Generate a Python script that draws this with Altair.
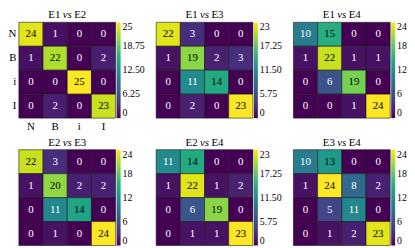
import altair as alt
import pandas as pd

cats = ["N", "B", "i", "I"]
title_left = ["E1", "E1", "E1", "E2", "E2", "E3"]
title_right = ["E2", "E3", "E4", "E3", "E4", "E4"]

m_e1_e2 = [[24, 1, 0, 0], [1, 22, 0, 2], [0, 0, 25, 0], [0, 2, 0, 23]]
m_e1_e3 = [[22, 3, 0, 0], [1, 19, 2, 3], [0, 11, 14, 0], [0, 2, 0, 23]]
m_e1_e4 = [[10, 15, 0, 0], [1, 22, 1, 1], [0, 6, 19, 0], [0, 0, 1, 24]]
m_e2_e3 = [[22, 3, 0, 0], [1, 20, 2, 2], [0, 11, 14, 0], [0, 1, 0, 24]]
m_e2_e4 = [[11, 14, 0, 0], [1, 22, 1, 2], [0, 6, 19, 0], [0, 1, 1, 23]]
m_e3_e4 = [[10, 13, 0, 0], [1, 24, 8, 2], [0, 5, 11, 0], [0, 1, 2, 23]]
matrices = [m_e1_e2, m_e1_e3, m_e1_e4, m_e2_e3, m_e2_e4, m_e3_e4]

tv25 = [0, 6.25, 12.5, 18.75, 25]
tl25 = ["0", "6.25", "12.50", "18.75", "25"]
tv23 = [0, 5.75, 11.5, 17.25, 23]
tl23 = ["0", "5.75", "11.50", "17.25", "23"]
tv24 = [0, 6, 12, 18, 24]
tl24 = ["0", "6", "12", "18", "24"]
tick_values = [tv25, tv23, tv24, tv24, tv23, tv24]
tick_labels = [tl25, tl23, tl24, tl24, tl23, tl24]

W, H = 98, 97
FONT = "Liberation Serif"


def panel(i, show_axes):
    mat = matrices[i]
    df = pd.DataFrame(
        [{"row": cats[r], "col": cats[c], "v": mat[r][c]} for r in range(4) for c in range(4)]
    )
    vals = tick_values[i]
    labs = tick_labels[i]
    label_expr = (
        "[" + ",".join(f"'{l}'" for l in labs) + "][indexof(["
        + ",".join(str(v) for v in vals) + "], datum.value)]"
    )
    if show_axes:
        xax = alt.Axis(orient="bottom", title=None, labelAngle=0, ticks=False, domain=False,
                       labelPadding=3, labelFont=FONT, labelFontSize=11, labelColor="black")
        yax = alt.Axis(orient="left", title=None, ticks=False, domain=False,
                       labelPadding=3, labelFont=FONT, labelFontSize=11, labelColor="black")
    else:
        xax = None
        yax = None
    base = alt.Chart(df)
    rect = base.mark_rect(stroke="#1a1a1a", strokeWidth=0.6).encode(
        x=alt.X("col:N", sort=cats, axis=xax),
        y=alt.Y("row:N", sort=cats, axis=yax),
        color=alt.Color(
            "v:Q",
            scale=alt.Scale(scheme="viridis", domain=[0, vals[-1]]),
            legend=alt.Legend(
                title=None, values=vals, labelExpr=label_expr, orient="right",
                gradientLength=H, gradientThickness=4, offset=1, padding=0,
                labelFont=FONT, labelFontSize=10, labelColor="black", labelOffset=2,
                labelBaseline="middle", labelOverlap=False, gradientStrokeWidth=0,
            ),
        ),
    )
    text = base.transform_joinaggregate(vmax="max(v)").mark_text(font=FONT, fontSize=11).encode(
        x=alt.X("col:N", sort=cats),
        y=alt.Y("row:N", sort=cats),
        text="v:Q",
        color=alt.condition("datum.v > datum.vmax / 2", alt.value("black"), alt.value("white")),
    )
    t1 = alt.Chart(pd.DataFrame({"t": [title_left[i]]})).mark_text(
        font=FONT, fontSize=11, align="right", baseline="alphabetic", color="black"
    ).encode(text="t:N", x=alt.value(W / 2 - 7), y=alt.value(-4))
    t2 = alt.Chart(pd.DataFrame({"t": ["vs"]})).mark_text(
        font=FONT, fontSize=11, fontStyle="italic", align="center", baseline="alphabetic", color="black"
    ).encode(text="t:N", x=alt.value(W / 2), y=alt.value(-4))
    t3 = alt.Chart(pd.DataFrame({"t": [title_right[i]]})).mark_text(
        font=FONT, fontSize=11, align="left", baseline="alphabetic", color="black"
    ).encode(text="t:N", x=alt.value(W / 2 + 7), y=alt.value(-4))
    return alt.layer(rect, text, t1, t2, t3).properties(width=W, height=H)


row1 = alt.hconcat(panel(0, True), panel(1, False), panel(2, False),
                   spacing=41, bounds="flush").resolve_scale(color="independent")
row2 = alt.hconcat(panel(3, False), panel(4, False), panel(5, False),
                   spacing=41, bounds="flush").resolve_scale(color="independent")
chart = alt.vconcat(row1, row2, spacing=5).resolve_scale(
    color="independent"
).properties(padding=0).configure_view(stroke=None)

chart.save("out.html", embed_options={"renderer": "svg", "actions": False})
